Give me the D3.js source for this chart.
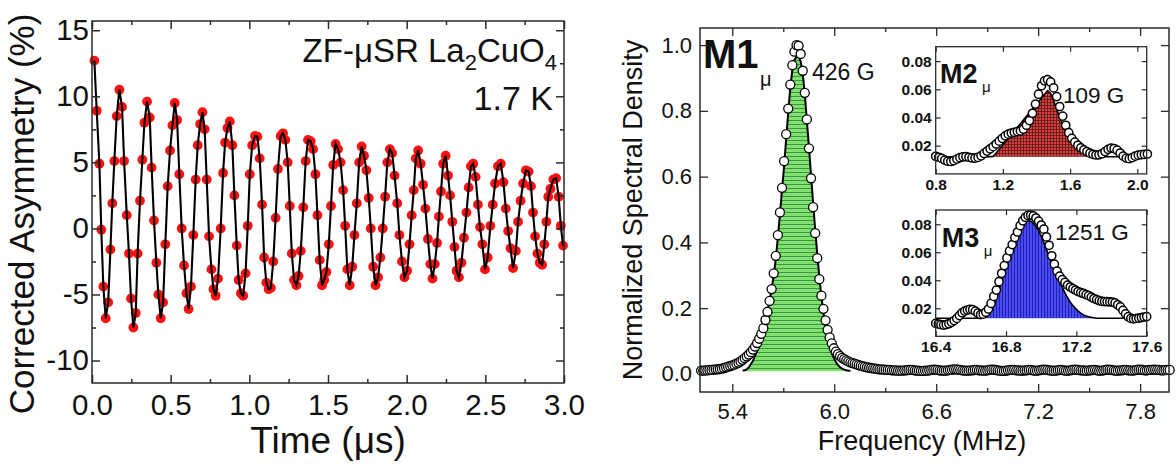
<!DOCTYPE html>
<html><head><meta charset="utf-8">
<script src="https://cdn.jsdelivr.net/npm/d3@7"></script>
<style>
body{margin:0;background:#fff;}
svg text{font-family:"Liberation Sans",Arial,Helvetica,sans-serif;fill:#111;}
</style></head><body>
<svg id="c" width="1176" height="466"></svg>
<script>
// ---------- Left panel: ZF-muSR asymmetry ----------
const asymTime = [0.015,0.030,0.047,0.059,0.072,0.087,0.103,0.117,0.129,0.142,0.157,0.174,0.191,0.204,0.221,0.235,0.248,0.263,0.278,0.290,
0.305,0.320,0.333,0.350,0.367,0.379,0.394,0.409,0.422,0.437,0.452,0.466,0.481,0.496,0.511,0.526,0.541,0.555,0.570,0.585,
0.600,0.614,0.629,0.644,0.659,0.672,0.687,0.702,0.716,0.729,0.744,0.759,0.772,0.786,0.801,0.818,0.833,0.846,0.861,0.876,
0.892,0.905,0.920,0.932,0.946,0.961,0.976,0.990,1.003,1.018,1.036,1.051,1.066,1.081,1.094,1.108,1.123,1.137,1.152,1.167,
1.182,1.199,1.214,1.229,1.244,1.257,1.270,1.284,1.299,1.313,1.327,1.343,1.358,1.373,1.390,1.405,1.420,1.433,1.447,1.462,
1.476,1.490,1.505,1.519,1.533,1.548,1.564,1.580,1.596,1.609,1.623,1.638,1.654,1.668,1.683,1.698,1.714,1.729,1.744,1.759,
1.772,1.787,1.802,1.818,1.833,1.848,1.863,1.877,1.893,1.908,1.923,1.940,1.954,1.970,1.986,2.003,2.018,2.032,2.045,2.058,
2.073,2.089,2.104,2.119,2.135,2.150,2.164,2.179,2.193,2.205,2.218,2.232,2.248,2.263,2.276,2.290,2.304,2.317,2.332,2.348,
2.364,2.380,2.394,2.408,2.423,2.438,2.453,2.466,2.481,2.498,2.515,2.532,2.547,2.562,2.580,2.598,2.615,2.630,2.645,2.660,
2.676,2.694,2.708,2.724,2.740,2.758,2.775,2.790,2.803,2.816,2.831,2.846,2.861,2.875,2.888,2.900,2.914,2.932,2.950,2.966,
2.980,2.994];
const asymValue = [12.7,8.9,4.9,-0.1,-4.4,-6.8,-5.6,-1.6,1.9,5.1,8.5,10.5,9.2,5.1,1.0,-1.9,-5.3,-7.5,-6.4,-1.9,
2.1,5.2,8.0,9.6,8.4,4.6,0.6,-2.6,-5.0,-6.8,-5.6,-1.2,3.2,5.9,7.8,9.5,8.2,4.1,0.0,-2.8,
-4.9,-6.1,-4.4,-0.5,3.7,6.3,7.9,8.8,7.5,3.7,-0.6,-3.1,-4.6,-5.1,-3.8,0.0,4.2,6.5,7.6,8.1,
6.3,2.5,-1.3,-3.9,-4.9,-5.1,-3.4,0.2,4.1,6.3,7.0,6.95,5.3,1.8,-2.2,-4.1,-4.6,-4.5,-2.5,0.8,
4.5,7.0,7.2,6.7,5.0,1.7,-1.9,-3.9,-4.3,-3.6,-1.7,1.6,5.1,6.7,6.6,6.0,4.1,1.0,-2.4,-4.3,
-3.9,-3.3,-1.2,1.7,4.8,6.4,6.0,5.0,2.9,0.2,-3.1,-4.3,-2.9,-0.5,1.9,5.0,6.2,5.5,4.4,2.3,
0.0,-2.9,-4.3,-3.7,-2.2,0.0,2.4,5.0,6.0,5.7,4.0,1.9,-0.5,-2.5,-3.7,-3.2,-1.2,1.0,2.9,5.3,
5.9,4.9,3.3,1.5,-0.8,-2.7,-3.8,-2.7,-1.1,0.9,2.8,4.9,5.5,4.0,2.5,0.5,-1.4,-3.2,-3.7,-2.6,
-0.7,1.2,3.1,4.7,4.9,3.9,1.8,0.1,-1.2,-3.1,-2.2,0.2,1.8,3.4,4.7,4.9,3.5,1.5,-0.2,-1.5,
-3.0,-1.7,0.5,2.1,3.4,4.4,4.3,3.2,1.2,-0.6,-1.9,-2.6,-2.75,-1.2,0.5,2.4,3.0,3.7,3.8,2.4,
0.2,-1.3];
const asymTicksX = [0, 0.5, 1.0, 1.5, 2.0, 2.5, 3.0];
const asymMinorX = [0.25, 0.75, 1.25, 1.75, 2.25, 2.75];
const asymTicksY = [-10, -5, 0, 5, 10, 15];
const asymMinorY = [-7.5, -2.5, 2.5, 7.5, 12.5];

// ---------- Right panel: M1 spectrum (uniform frequency sampling) ----------
const m1Start = 5.2168, m1Step = 0.0122;
const m1Density = [
0.010,0.010,0.011,0.011,0.012,0.012,0.013,0.014,0.014,0.015,
0.016,0.018,0.020,0.022,0.024,0.026,0.028,0.031,0.034,0.038,
0.043,0.048,0.053,0.059,0.066,0.074,0.083,0.094,0.107,0.122,
0.139,0.164,0.189,0.222,0.258,0.306,0.359,0.422,0.491,0.566,
0.647,0.729,0.807,0.880,0.939,0.980,1.000,0.998,0.973,0.922,
0.855,0.774,0.686,0.595,0.507,0.428,0.352,0.288,0.238,0.198,
0.163,0.134,0.111,0.093,0.078,0.068,0.060,0.054,0.049,0.045,
0.041,0.038,0.035,0.033,0.031,0.029,0.027,0.025,0.023,0.022,
0.020,0.019,0.018,0.017,0.016,0.015,0.014,0.014,0.013,0.013,
0.012,0.012,0.011,0.011,0.011,0.010,0.010,0.010,0.011,0.011,
0.012,0.012,0.012,0.011,0.010,0.010,0.009,0.009,0.010,0.010,
0.011,0.012,0.013,0.013,0.012,0.011,0.010,0.010,0.010,0.011,
0.012,0.013,0.014,0.014,0.013,0.012,0.011,0.010,0.010,0.010,
0.011,0.011,0.012,0.012,0.011,0.011,0.010,0.010,0.011,0.012,
0.013,0.013,0.012,0.011,0.010,0.009,0.009,0.010,0.011,0.012,
0.012,0.012,0.011,0.011,0.010,0.010,0.011,0.011,0.012,0.012,
0.011,0.010,0.010,0.011,0.012,0.013,0.013,0.012,0.011,0.010,
0.010,0.010,0.011,0.012,0.012,0.011,0.010,0.010,0.011,0.012,
0.013,0.013,0.012,0.011,0.011,0.010,0.010,0.011,0.011,0.012,
0.012,0.011,0.010,0.010,0.011,0.012,0.013,0.013,0.012,0.011,
0.010,0.010,0.011,0.011,0.012,0.012,0.011,0.011,0.010,0.011,
0.012,0.013,0.013,0.012,0.011,0.011,0.012,0.012,0.013,0.013,
0.012,0.012,0.011,0.011,0.012,0.012,0.012];
const m1FitFrom = 20;
const m1Fit = [0.010,0.011,0.014,0.020,0.030,0.040,0.055,0.070,0.090,0.110,
0.135,0.160,0.190,0.222,0.258,0.300,0.350,0.415,0.485,0.560,
0.630,0.715,0.795,0.870,0.925,0.955,0.965,0.965,0.950,0.915,
0.850,0.770,0.690,0.605,0.520,0.440,0.365,0.295,0.235,0.185,
0.145,0.112,0.085,0.064,0.048,0.036,0.027,0.020,0.016,0.013,
0.011,0.010,0.010];
const m1TicksX = [5.4, 6.0, 6.6, 7.2, 7.8];
const m1MinorX = [5.7, 6.3, 6.9, 7.5];
const m1TicksY = [0.0, 0.2, 0.4, 0.6, 0.8, 1.0];

// ---------- Inset M2 ----------
const m2Start = 0.8, m2Step = 0.018;
const m2Density = [0.0125,0.0118,0.0110,0.0098,0.0090,0.0088,0.0094,0.0105,0.0115,0.0121,
0.0122,0.0118,0.0113,0.0112,0.0117,0.0128,0.0145,0.0162,0.0178,0.0193,
0.0212,0.0232,0.0252,0.0270,0.0282,0.0290,0.0295,0.0300,0.0305,0.0318,
0.0345,0.0378,0.0430,0.0495,0.0565,0.0625,0.0660,0.0668,0.0652,0.0610,
0.0548,0.0478,0.0410,0.0345,0.0292,0.0252,0.0225,0.0203,0.0185,0.0170,
0.0158,0.0147,0.0139,0.0134,0.0135,0.0143,0.0158,0.0174,0.0183,0.0180,
0.0168,0.0148,0.0126,0.0112,0.0108,0.0115,0.0126,0.0133,0.0136,0.0138,0.0141];
const m2Fit = [0.0122,0.0122,0.0122,0.0122,0.0122,0.0122,0.0122,0.0122,0.0122,0.0122,
0.0122,0.0122,0.0122,0.0122,0.0122,0.0122,0.0122,0.0122,0.0122,0.0124,
0.0148,0.0174,0.0200,0.0226,0.0252,0.0278,0.0304,0.0330,0.0356,0.0382,
0.0408,0.0434,0.0460,0.0486,0.0512,0.0538,0.0565,0.0590,0.0570,0.0520,
0.0460,0.0400,0.0345,0.0300,0.0260,0.0225,0.0200,0.0180,0.0163,0.0150,
0.0140,0.0133,0.0128,0.0124,0.0122,0.0122,0.0122,0.0122,0.0122,0.0122,
0.0122,0.0122,0.0122,0.0122,0.0122,0.0122,0.0122,0.0122,0.0122,0.0122,0.0122];
const m2Base = 0.0122;
const m2TicksX = [0.8, 1.2, 1.6, 2.0];
const insetTicksY = [0.02, 0.04, 0.06, 0.08];

// ---------- Inset M3 ----------
const m3Start = 16.4, m3Step = 0.015;
const m3Density = [0.0092,0.0088,0.0083,0.0080,0.0083,0.0090,0.0100,0.0112,0.0128,0.0148,
0.0168,0.0180,0.0188,0.0192,0.0190,0.0180,0.0165,0.0155,0.0158,0.0172,
0.0195,0.0235,0.0285,0.0330,0.0390,0.0450,0.0505,0.0560,0.0610,0.0655,
0.0705,0.0745,0.0790,0.0825,0.0850,0.0863,0.0866,0.0860,0.0845,0.0823,
0.0795,0.0765,0.0710,0.0650,0.0575,0.0515,0.0465,0.0430,0.0405,0.0385,
0.0365,0.0352,0.0340,0.0330,0.0320,0.0312,0.0306,0.0298,0.0290,0.0280,
0.0270,0.0262,0.0255,0.0250,0.0248,0.0247,0.0246,0.0245,0.0238,0.0225,
0.0210,0.0185,0.0160,0.0140,0.0128,0.0125,0.0127,0.0130,0.0134,0.0138,0.0141];
const m3Fit = [0.0129,0.0129,0.0129,0.0129,0.0129,0.0129,0.0129,0.0129,0.0129,0.0129,
0.0129,0.0129,0.0129,0.0129,0.0129,0.0129,0.0129,0.0129,0.0132,0.0140,
0.0155,0.0180,0.0220,0.0270,0.0330,0.0390,0.0460,0.0530,0.0590,0.0650,
0.0700,0.0745,0.0783,0.0808,0.0822,0.0826,0.0822,0.0808,0.0785,0.0755,
0.0715,0.0670,0.0620,0.0570,0.0520,0.0470,0.0430,0.0390,0.0350,0.0310,
0.0275,0.0245,0.0220,0.0200,0.0180,0.0165,0.0153,0.0145,0.0139,0.0135,
0.0132,0.0129,0.0129,0.0129,0.0129,0.0129,0.0129,0.0129,0.0129,0.0129,
0.0129,0.0129,0.0129,0.0129,0.0129,0.0129,0.0129,0.0129,0.0129,0.0129,0.0129];
const m3Base = 0.0129;
const m3TicksX = [16.4, 16.8, 17.2, 17.6];

// ================= drawing =================
const svg = d3.select("#c");
svg.append("rect").attr("width",1176).attr("height",466).attr("fill","#fff");
const defs = svg.append("defs");
const pg = defs.append("pattern").attr("id","hGreen").attr("patternUnits","userSpaceOnUse").attr("width",8).attr("height",4);
pg.append("rect").attr("width",8).attr("height",4).attr("fill","#80e070");
pg.append("rect").attr("y",0).attr("width",8).attr("height",1).attr("fill","#3f9440");
const pr = defs.append("pattern").attr("id","xRed").attr("patternUnits","userSpaceOnUse").attr("width",3).attr("height",3);
pr.append("rect").attr("width",3).attr("height",3).attr("fill","#d8423c");
pr.append("rect").attr("width",3).attr("height",0.8).attr("fill","#5a1414");
pr.append("rect").attr("width",0.8).attr("height",3).attr("fill","#5a1414");
const pb = defs.append("pattern").attr("id","vBlue").attr("patternUnits","userSpaceOnUse").attr("width",3).attr("height",6);
pb.append("rect").attr("width",3).attr("height",6).attr("fill","#4a4af2");
pb.append("rect").attr("width",0.9).attr("height",6).attr("fill","#1c1ca8");

const AX = "#2a2a2a";
function drawAxes(g, x, y, c) {
  const [left, right] = x.range(), [bottom, top] = y.range();
  const clean = s => { s.select(".domain").remove(); s.selectAll(".tick line").attr("stroke", AX).attr("stroke-width", c.tw); };
  const styleText = s => s.selectAll("text").attr("font-size", c.fs).attr("font-weight", c.fw).attr("fill", "#111");
  g.append("g").attr("transform",`translate(0,${bottom})`)
    .call(d3.axisBottom(x).tickValues(c.xt).tickFormat(c.xf).tickSizeInner(-c.maj).tickSizeOuter(0).tickPadding(c.xpad))
    .call(clean).call(styleText);
  g.append("g").attr("transform",`translate(0,${top})`)
    .call(d3.axisTop(x).tickValues(c.xt).tickFormat("").tickSizeInner(-c.maj).tickSizeOuter(0)).call(clean);
  if (c.xm) {
    g.append("g").attr("transform",`translate(0,${bottom})`)
      .call(d3.axisBottom(x).tickValues(c.xm).tickFormat("").tickSizeInner(-c.min).tickSizeOuter(0)).call(clean);
    g.append("g").attr("transform",`translate(0,${top})`)
      .call(d3.axisTop(x).tickValues(c.xm).tickFormat("").tickSizeInner(-c.min).tickSizeOuter(0)).call(clean);
  }
  g.append("g").attr("transform",`translate(${left},0)`)
    .call(d3.axisLeft(y).tickValues(c.yt).tickFormat(c.yf).tickSizeInner(-c.maj).tickSizeOuter(0).tickPadding(c.ypad))
    .call(clean).call(styleText);
  g.append("g").attr("transform",`translate(${right},0)`)
    .call(d3.axisRight(y).tickValues(c.yt).tickFormat("").tickSizeInner(-c.maj).tickSizeOuter(0)).call(clean);
  if (c.ym) {
    g.append("g").attr("transform",`translate(${left},0)`)
      .call(d3.axisLeft(y).tickValues(c.ym).tickFormat("").tickSizeInner(-c.min).tickSizeOuter(0)).call(clean);
    g.append("g").attr("transform",`translate(${right},0)`)
      .call(d3.axisRight(y).tickValues(c.ym).tickFormat("").tickSizeInner(-c.min).tickSizeOuter(0)).call(clean);
  }
  g.append("rect").attr("x",left).attr("y",top).attr("width",right-left).attr("height",bottom-top)
    .attr("fill","none").attr("stroke",AX).attr("stroke-width",c.frame||1.5);
}

// ----- Left panel -----
const xL = d3.scaleLinear().domain([0,3]).range([92,564]);
const yL = d3.scaleLinear().domain([-11.7,15.7]).range([383,21]);
const gL = svg.append("g");
const asym = asymTime.map((t,i)=>({t, a: asymValue[i]}));
gL.append("g").selectAll("circle").data(asym).join("circle")
  .attr("cx", d=>xL(d.t)).attr("cy", d=>yL(d.a)).attr("r",4.9).attr("fill","#ff1010");
gL.append("path").datum(asym).attr("fill","none").attr("stroke","#000").attr("stroke-width",2.1)
  .attr("d", d3.line().x(d=>xL(d.t)).y(d=>yL(d.a)));
drawAxes(gL, xL, yL, {xt: asymTicksX, xm: asymMinorX, yt: asymTicksY, ym: asymMinorY,
  xf: d3.format(".1f"), yf: d=>String(d), maj: 8, min: 4, tw: 1.5, fs: 29.5, fw: "normal", xpad: 11, ypad: 3});
gL.append("text").attr("transform","translate(34,214) rotate(-90)").attr("text-anchor","middle")
  .attr("font-size",35).text("Corrected Asymmetry (%)");
gL.append("text").attr("x",328).attr("y",453).attr("text-anchor","middle").attr("font-size",37).text("Time (μs)");
const ann = gL.append("text").attr("x",557).attr("y",62).attr("text-anchor","end").attr("font-size",33);
ann.append("tspan").text("ZF-μSR La");
ann.append("tspan").attr("dy",8).attr("font-size",22).text("2");
ann.append("tspan").attr("dy",-8).text("CuO");
ann.append("tspan").attr("dy",8).attr("font-size",22).text("4");
gL.append("text").attr("x",553).attr("y",110).attr("text-anchor","end").attr("font-size",34).text("1.7 K");

// ----- Right panel -----
const xR = d3.scaleLinear().domain([5.21,7.97]).range([700,1169]);
const yR = d3.scaleLinear().domain([-0.055,1.052]).range([392,28]);
const gR = svg.append("g");
const m1 = m1Density.map((v,i)=>({f: m1Start + i*m1Step, v}));
const m1f = m1Fit.map((v,i)=>({f: m1Start + (i+m1FitFrom)*m1Step, v}));
gR.append("path").datum(m1f).attr("fill","url(#hGreen)")
  .attr("d", d3.area().x(d=>xR(d.f)).y0(yR(0.008)).y1(d=>yR(d.v)));
gR.append("path").datum(m1f).attr("fill","none").attr("stroke","#000").attr("stroke-width",2)
  .attr("d", d3.line().x(d=>xR(d.f)).y(d=>yR(d.v)));
gR.append("g").selectAll("circle").data(m1).join("circle")
  .attr("cx", d=>xR(d.f)).attr("cy", d=>yR(d.v)).attr("r",4.5)
  .attr("fill","#fff").attr("stroke","#000").attr("stroke-width",1.3);
drawAxes(gR, xR, yR, {xt: m1TicksX, xm: m1MinorX, yt: m1TicksY,
  xf: d3.format(".1f"), yf: d3.format(".1f"), maj: 8, min: 4, tw: 1.3, fs: 22, fw: "normal", xpad: 11, ypad: 8});
gR.append("text").attr("transform","translate(642,210) rotate(-90)").attr("text-anchor","middle")
  .attr("font-size",27).text("Normalized Spectral Density");
gR.append("text").attr("x",922).attr("y",450).attr("text-anchor","middle").attr("font-size",27).text("Frequency (MHz)");
gR.append("text").attr("x",703).attr("y",68).attr("font-size",40).attr("font-weight","bold").text("M1");
gR.append("text").attr("x",760).attr("y",86).attr("font-size",20).text("μ");
gR.append("text").attr("x",812).attr("y",80).attr("font-size",23).text("426 G");

// ----- Insets -----
function inset(x, y, dens, start, step, fit, base, pattern, ticksX, label, field, pos) {
  const g = svg.append("g");
  const [l, r] = x.range(), [b, t] = y.range();
  g.append("rect").attr("x",l).attr("y",t).attr("width",r-l).attr("height",b-t).attr("fill","#fff");
  const pts = dens.map((v,i)=>({f: start + i*step, v}));
  const fp = fit.map((v,i)=>({f: start + i*step, v}));
  g.append("path").datum(fp).attr("fill",pattern)
    .attr("d", d3.area().x(d=>x(d.f)).y0(y(base)).y1(d=>y(d.v)));
  g.append("path").datum(fp).attr("fill","none").attr("stroke","#000").attr("stroke-width",1.6)
    .attr("d", d3.line().x(d=>x(d.f)).y(d=>y(d.v)));
  g.append("g").selectAll("circle").data(pts).join("circle")
    .attr("cx", d=>x(d.f)).attr("cy", d=>y(d.v)).attr("r",4.1)
    .attr("fill","#fff").attr("stroke","#000").attr("stroke-width",1.5);
  drawAxes(g, x, y, {xt: ticksX, yt: insetTicksY, xf: d3.format(".1f"), yf: d3.format(".2f"),
    maj: 5, min: 3, tw: 1.2, fs: 15.5, fw: "bold", xpad: 5, ypad: 4, frame: 1.3});
  g.append("text").attr("x",pos.mx).attr("y",pos.my).attr("font-size",27).attr("font-weight","bold").text(label);
  g.append("text").attr("x",pos.mx+42).attr("y",pos.my+9).attr("font-size",15).text("μ");
  g.append("text").attr("x",pos.fx).attr("y",pos.fy).attr("font-size",22.5).text(field);
}
const xM2 = d3.scaleLinear().domain([0.8,2.056]).range([935.7,1146.7]);
const yM2 = d3.scaleLinear().domain([0,0.0902]).range([173.9,46.7]);
inset(xM2, yM2, m2Density, m2Start, m2Step, m2Fit, m2Base, "url(#xRed)", m2TicksX, "M2", "109 G", {mx:940, my:83, fx:1063, fy:103});
const xM3 = d3.scaleLinear().domain([16.4,17.6]).range([935.7,1146.7]);
const yM3 = d3.scaleLinear().domain([0,0.0902]).range([336.3,210]);
inset(xM3, yM3, m3Density, m3Start, m3Step, m3Fit, m3Base, "url(#vBlue)", m3TicksX, "M3", "1251 G", {mx:941.7, my:247, fx:1055, fy:240});
</script></body></html>
